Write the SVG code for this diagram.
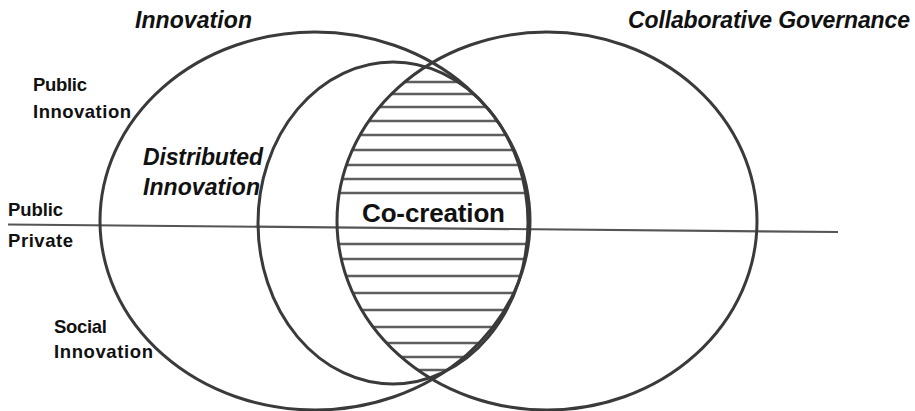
<svg xmlns="http://www.w3.org/2000/svg" width="915" height="411" viewBox="0 0 915 411">
  <style>
    .ring { fill: none; stroke: #3a3a3a; stroke-width: 3; }
    .hatch { stroke: #5e5e5e; stroke-width: 2.5; }
    .divider { stroke: #555555; stroke-width: 2.2; fill: none; }
    .lbl { font-family: "Liberation Sans", Arial, sans-serif; font-weight: bold; fill: #111111; }
    .it { font-style: italic; }
  </style>
  <defs>
    <clipPath id="clipL"><ellipse cx="315" cy="221" rx="215" ry="189"/></clipPath>
    <clipPath id="clipR"><ellipse cx="547" cy="221" rx="210" ry="189"/></clipPath>
  </defs>
  <rect width="915" height="411" fill="#ffffff"/>

  <g id="co-creation-hatch" clip-path="url(#clipL)">
    <g clip-path="url(#clipR)">
      <g class="hatch">
        <line x1="320" y1="82" x2="540" y2="82"/>
        <line x1="320" y1="94" x2="540" y2="94"/>
        <line x1="320" y1="107" x2="540" y2="107"/>
        <line x1="320" y1="121" x2="540" y2="121"/>
        <line x1="320" y1="135" x2="540" y2="135"/>
        <line x1="320" y1="150" x2="540" y2="150"/>
        <line x1="320" y1="165" x2="540" y2="165"/>
        <line x1="320" y1="179" x2="540" y2="179"/>
        <line x1="320" y1="193" x2="540" y2="193"/>
        <line x1="320" y1="244" x2="540" y2="244"/>
        <line x1="320" y1="259" x2="540" y2="259"/>
        <line x1="320" y1="276" x2="540" y2="276"/>
        <line x1="320" y1="293" x2="540" y2="293"/>
        <line x1="320" y1="310" x2="540" y2="310"/>
        <line x1="320" y1="327" x2="540" y2="327"/>
        <line x1="320" y1="343" x2="540" y2="343"/>
        <line x1="320" y1="357" x2="540" y2="357"/>
        <line x1="320" y1="370" x2="540" y2="370"/>
      </g>
    </g>
  </g>

  <g id="connectors">
    <line class="divider" x1="8" y1="224.5" x2="838" y2="232"/>
  </g>

  <g id="innovation">
    <ellipse class="ring" cx="315" cy="221" rx="215" ry="189"/>
    <text class="lbl it" x="135" y="28" font-size="23" textLength="117">Innovation</text>
  </g>

  <g id="collaborative-governance">
    <ellipse class="ring" cx="547" cy="221" rx="210" ry="189"/>
    <text class="lbl it" x="628" y="28" font-size="23" textLength="282">Collaborative Governance</text>
  </g>

  <g id="distributed-innovation">
    <ellipse class="ring" cx="393" cy="223" rx="135" ry="161"/>
    <text class="lbl it" x="143" y="165" font-size="23" textLength="120">Distributed</text>
    <text class="lbl it" x="143" y="195" font-size="23" textLength="117">Innovation</text>
  </g>

  <g id="co-creation">
    <text class="lbl" x="362" y="222" font-size="26" textLength="143">Co-creation</text>
  </g>

  <g id="public-innovation">
    <text class="lbl" x="33" y="91" font-size="18.5" textLength="54">Public</text>
    <text class="lbl" x="33" y="118" font-size="18.5" textLength="98">Innovation</text>
  </g>

  <g id="social-innovation">
    <text class="lbl" x="54" y="333" font-size="18.5" textLength="53">Social</text>
    <text class="lbl" x="54" y="358" font-size="18.5" textLength="99">Innovation</text>
  </g>

  <g id="public-private">
    <text class="lbl" x="8" y="216" font-size="18.5" textLength="55">Public</text>
    <text class="lbl" x="8" y="247" font-size="18.5" textLength="65">Private</text>
  </g>
</svg>
